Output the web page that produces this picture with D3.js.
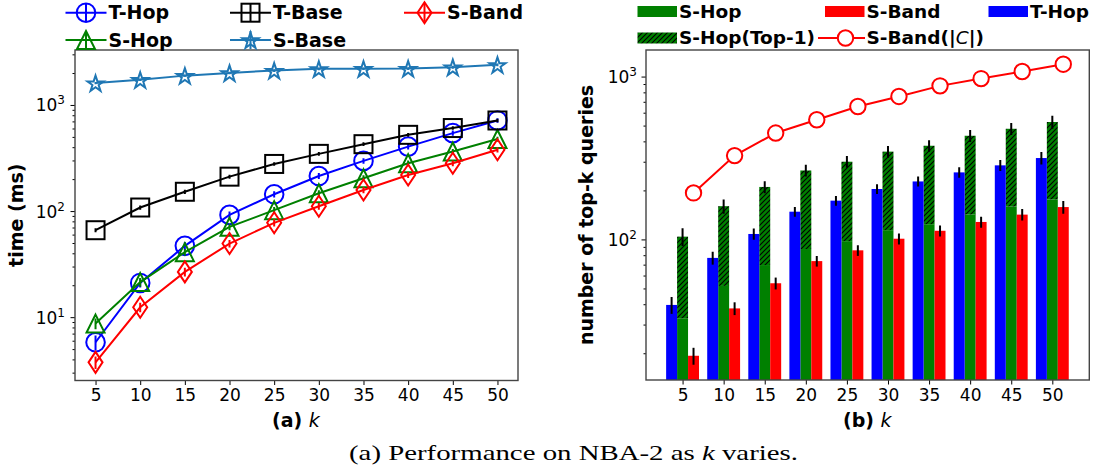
<!DOCTYPE html>
<html>
<head>
<meta charset="utf-8">
<script src="https://cdn.jsdelivr.net/npm/d3@7"></script>
<style>
  body { margin: 0; background: #fff; }
  svg { display: block; }
  text { font-family: "DejaVu Sans", sans-serif; fill: #000; }
</style>
</head>
<body>
<svg id="fig" width="1102" height="469"></svg>
<script>
// ---- data ----
const kValues = [5, 10, 15, 20, 25, 30, 35, 40, 45, 50];

// (a) running time in ms
const tHopTime  = [5.8, 21, 47, 92, 144, 214, 297, 405, 543, 714];
const sHopTime  = [8.7, 21.4, 41, 71, 102, 147, 204, 282, 364, 477];
const tBaseTime = [66, 108, 152, 211, 278, 346, 427, 523, 606, 714];
const sBaseTime = [1610, 1730, 1890, 2005, 2110, 2190, 2195, 2205, 2270, 2390];
const sBandTime = [3.75, 12.4, 26.7, 49.4, 77.5, 111, 158, 219, 282, 378];

const tHopTimeErr  = [0.9, 2, 4, 7, 10, 14, 18, 24, 30, 36];
const sHopTimeErr  = [1, 2, 3, 5, 7, 10, 13, 17, 21, 26];
const tBaseTimeErr = [3, 5, 7, 9, 11, 14, 17, 20, 23, 26];
const sBaseTimeErr = [40, 45, 50, 55, 60, 65, 65, 65, 70, 75];
const sBandTimeErr = [0.5, 1.3, 2.5, 4, 6, 8, 11, 14, 18, 22];

// (b) number of top-k queries
const tHopCount     = [39.6, 77, 108, 148, 173, 204, 227, 258, 285, 316];
const sHopCount     = [32.8, 51.8, 69.6, 87.3, 97.6, 114, 124, 142, 159, 176];
const sHopTop1Count = [104, 160, 210, 265, 300, 346, 376, 433, 478, 526];
const sBandCount    = [19.3, 37.7, 53.8, 73.6, 85.7, 101, 113, 128, 142, 158];
const sBandCandidates = [193, 327, 450, 543, 655, 755, 877, 972, 1074, 1191];

const tHopCountErr     = [4.7, 7, 8.5, 10, 12, 14, 16, 19, 22, 28];
const sHopTop1CountErr = [13, 16, 18, 22, 25, 29, 31, 36, 40, 48];
const sBandCountErr    = [2.3, 3.4, 4.5, 5.5, 6.5, 7.8, 8.8, 10, 11.5, 14];

const leftMajorTicks = [10, 100, 1000];
const leftMinorTicks = [3, 4, 5, 6, 7, 8, 9, 20, 30, 40, 50, 60, 70, 80, 90,
                        200, 300, 400, 500, 600, 700, 800, 900, 2000, 3000];
const rightMajorTicks = [100, 1000];
const rightMinorTicks = [20, 30, 40, 50, 60, 70, 80, 90, 200, 300, 400, 500, 600, 700, 800, 900];

const C = { blue: "#0000ff", green: "#008000", red: "#ff0000", black: "#000000", steel: "#1f77b4" };

const svg = d3.select("#fig");
const defs = svg.append("defs");

// diagonal hatch for the Top-1 bars
const pat = defs.append("pattern").attr("id", "hatch")
  .attr("patternUnits", "userSpaceOnUse").attr("width", 5).attr("height", 5);
pat.append("rect").attr("width", 5).attr("height", 5).attr("fill", C.green);
pat.append("path").attr("d", "M-1,1 L1,-1 M0,5 L5,0 M4,6 L6,4")
  .attr("stroke", "#000").attr("stroke-width", 1.1);

// ---- helpers ----
function starPath(cx, cy, R) {
  const r = R * 0.382;
  let d = "";
  for (let i = 0; i < 10; i++) {
    const a = -Math.PI / 2 + i * Math.PI / 5;
    const rr = i % 2 === 0 ? R : r;
    d += (i === 0 ? "M" : "L") + (cx + rr * Math.cos(a)).toFixed(2) + "," + (cy + rr * Math.sin(a)).toFixed(2);
  }
  return d + "Z";
}

function drawMarker(g, shape, x, y, color, fill) {
  const common = el => el.attr("stroke", color).attr("stroke-width", 2).attr("fill", fill);
  if (shape === "circle") common(g.append("circle").attr("cx", x).attr("cy", y).attr("r", 9.3));
  else if (shape === "square") common(g.append("rect").attr("x", x - 9).attr("y", y - 9).attr("width", 18).attr("height", 18));
  else if (shape === "triangle") common(g.append("path").attr("d", `M${x},${y - 9}L${x + 9},${y + 9}L${x - 9},${y + 9}Z`));
  else if (shape === "diamond") common(g.append("path").attr("d", `M${x},${y - 10.5}L${x + 7},${y}L${x},${y + 10.5}L${x - 7},${y}Z`));
  else if (shape === "star") common(g.append("path").attr("d", starPath(x, y + 1, 8.5)));
  else if (shape === "smallcircle") common(g.append("circle").attr("cx", x).attr("cy", y).attr("r", 7.7));
}

function powerLabel(sel, tickX) {
  // 10^n tick labels drawn as base plus superscript
  sel.each(function (d) {
    const t = d3.select(this);
    t.text(null).attr("x", tickX).attr("text-anchor", "end").attr("dy", "0.35em");
    t.append("tspan").text("10");
    t.append("tspan").attr("dy", -7).attr("font-size", 12).text(Math.round(Math.log10(d)));
  });
}

function styleAxis(g) {
  g.select(".domain").remove();
  g.selectAll(".tick line").attr("stroke", "#000").attr("stroke-width", 1);
  g.selectAll(".tick text").attr("font-size", 17).attr("fill", "#000").attr("font-family", "DejaVu Sans");
}

// ================= (a) time vs k =================
const L = { x0: 75, x1: 518, y0: 50, y1: 380.5 };
const xL = d3.scaleLinear().domain([2.7, 52.3]).range([L.x0, L.x1]);
const yL = d3.scaleLog().domain([2.53, 3296]).range([L.y1, L.y0]);

const gL = svg.append("g");

gL.append("g").attr("transform", `translate(0,${L.y1})`)
  .call(d3.axisBottom(xL).tickValues(kValues).tickSize(4.5).tickPadding(4).tickFormat(d3.format("d")))
  .call(styleAxis);
gL.append("g").attr("transform", `translate(${L.x0},0)`)
  .call(d3.axisLeft(yL).tickValues(leftMinorTicks).tickSize(2.5).tickFormat(""))
  .call(styleAxis);
gL.append("g").attr("transform", `translate(${L.x0},0)`)
  .call(d3.axisLeft(yL).tickValues(leftMajorTicks).tickSize(4.5))
  .call(styleAxis)
  .call(g => powerLabel(g.selectAll(".tick text"), -10));

defs.append("clipPath").attr("id", "clipL").append("rect")
  .attr("x", L.x0).attr("y", L.y0).attr("width", L.x1 - L.x0).attr("height", L.y1 - L.y0);

const seriesL = [
  { name: "T-Hop",  vals: tHopTime,  err: tHopTimeErr,  color: C.blue,  shape: "circle" },
  { name: "S-Hop",  vals: sHopTime,  err: sHopTimeErr,  color: C.green, shape: "triangle" },
  { name: "T-Base", vals: tBaseTime, err: tBaseTimeErr, color: C.black, shape: "square" },
  { name: "S-Base", vals: sBaseTime, err: sBaseTimeErr, color: C.steel, shape: "star" },
  { name: "S-Band", vals: sBandTime, err: sBandTimeErr, color: C.red,   shape: "diamond" }
];

const plotL = gL.append("g").attr("clip-path", "url(#clipL)");
const lineL = d3.line().x(d => xL(d[0])).y(d => yL(d[1]));
seriesL.forEach(s => {
  const g = plotL.append("g");
  const pts = kValues.map((k, i) => [k, s.vals[i]]);
  g.append("path").attr("d", lineL(pts)).attr("fill", "none")
    .attr("stroke", s.color).attr("stroke-width", 2);
  kValues.forEach((k, i) => {
    g.append("line").attr("x1", xL(k)).attr("x2", xL(k))
      .attr("y1", yL(s.vals[i] - s.err[i])).attr("y2", yL(s.vals[i] + s.err[i]))
      .attr("stroke", s.color).attr("stroke-width", 2);
  });
  kValues.forEach((k, i) => drawMarker(g, s.shape, xL(k), yL(s.vals[i]), s.color, "none"));
});

gL.append("rect").attr("x", L.x0).attr("y", L.y0).attr("width", L.x1 - L.x0).attr("height", L.y1 - L.y0)
  .attr("fill", "none").attr("stroke", "#444").attr("stroke-width", 1.4);

gL.append("text").attr("transform", `translate(16,${(L.y0 + L.y1) / 2}) rotate(-90)`)
  .attr("text-anchor", "middle").attr("dy", "0.35em")
  .attr("font-size", 19).attr("font-weight", "bold").text("time (ms)");

const xlabA = gL.append("text").attr("x", 272).attr("y", 427).attr("font-size", 19);
xlabA.append("tspan").attr("font-weight", "bold").text("(a) ");
xlabA.append("tspan").attr("font-style", "italic").text("k");

// legend (a): three columns, filled column by column
const legL = [
  { s: seriesL[0], x: 65.5, y: 12.7 },
  { s: seriesL[1], x: 65.5, y: 40 },
  { s: seriesL[2], x: 230,  y: 12.7 },
  { s: seriesL[3], x: 230,  y: 40 },
  { s: seriesL[4], x: 404,  y: 12.7 }
];
legL.forEach(e => {
  const g = gL.append("g");
  g.append("line").attr("x1", e.x).attr("x2", e.x + 41).attr("y1", e.y).attr("y2", e.y)
    .attr("stroke", e.s.color).attr("stroke-width", 2);
  g.append("line").attr("x1", e.x + 20.5).attr("x2", e.x + 20.5).attr("y1", e.y - 9).attr("y2", e.y + 9)
    .attr("stroke", e.s.color).attr("stroke-width", 2);
  drawMarker(g, e.s.shape, e.x + 20.5, e.y, e.s.color, "none");
  g.append("text").attr("x", e.x + 43).attr("y", e.y + 6.7)
    .attr("font-size", 19).attr("font-weight", "bold").text(e.s.name);
});

// ================= (b) number of queries vs k =================
const R = { x0: 646, x1: 1089.3, y0: 50, y1: 380 };
const idx = kValues.map((k, i) => i);
const xR = d3.scaleLinear().domain([-0.89, 9.9]).range([R.x0, R.x1]);
const yR = d3.scaleLog().domain([13.7, 1456]).range([R.y1, R.y0]);
const barW = 0.8 / 3;
const bw = xR(barW) - xR(0);

const gR = svg.append("g");
gR.append("g").attr("transform", `translate(0,${R.y1})`)
  .call(d3.axisBottom(xR).tickValues(idx).tickSize(4.5).tickPadding(4).tickFormat(i => kValues[i]))
  .call(styleAxis);
gR.append("g").attr("transform", `translate(${R.x0},0)`)
  .call(d3.axisLeft(yR).tickValues(rightMinorTicks).tickSize(2.5).tickFormat(""))
  .call(styleAxis);
gR.append("g").attr("transform", `translate(${R.x0},0)`)
  .call(d3.axisLeft(yR).tickValues(rightMajorTicks).tickSize(4.5))
  .call(styleAxis)
  .call(g => powerLabel(g.selectAll(".tick text"), -9));

defs.append("clipPath").attr("id", "clipR").append("rect")
  .attr("x", R.x0).attr("y", R.y0).attr("width", R.x1 - R.x0).attr("height", R.y1 - R.y0);
const plotR = gR.append("g").attr("clip-path", "url(#clipR)");

function bars(vals, offset, fill, base) {
  plotR.append("g").selectAll("rect").data(idx).join("rect")
    .attr("x", i => xR(i + offset - barW / 2))
    .attr("width", bw)
    .attr("y", i => yR(vals[i]))
    .attr("height", i => (base ? yR(base[i]) : R.y1) - yR(vals[i]))
    .attr("fill", fill);
}
function errs(vals, err, offset) {
  plotR.append("g").selectAll("line").data(idx).join("line")
    .attr("x1", i => xR(i + offset)).attr("x2", i => xR(i + offset))
    .attr("y1", i => yR(vals[i] - err[i])).attr("y2", i => yR(vals[i] + err[i]))
    .attr("stroke", "#000").attr("stroke-width", 2);
}

bars(sHopCount, 0, C.green);
bars(sHopTop1Count, 0, "url(#hatch)", sHopCount);
bars(sBandCount, barW, C.red);
bars(tHopCount, -barW, C.blue);
errs(sHopTop1Count, sHopTop1CountErr, 0);
errs(sBandCount, sBandCountErr, barW);
errs(tHopCount, tHopCountErr, -barW);

const lineR = d3.line().x(i => xR(i + barW)).y(i => yR(sBandCandidates[i]));
plotR.append("path").attr("d", lineR(idx)).attr("fill", "none")
  .attr("stroke", C.red).attr("stroke-width", 2);
idx.forEach(i => drawMarker(plotR, "smallcircle", xR(i + barW), yR(sBandCandidates[i]), C.red, "#fff"));

gR.append("rect").attr("x", R.x0).attr("y", R.y0).attr("width", R.x1 - R.x0).attr("height", R.y1 - R.y0)
  .attr("fill", "none").attr("stroke", "#444").attr("stroke-width", 1.4);

gR.append("text").attr("transform", `translate(586,${(R.y0 + R.y1) / 2}) rotate(-90)`)
  .attr("text-anchor", "middle").attr("dy", "0.35em")
  .attr("font-size", 19).attr("font-weight", "bold").text("number of top-k queries");

const xlabB = gR.append("text").attr("x", 843).attr("y", 427).attr("font-size", 19);
xlabB.append("tspan").attr("font-weight", "bold").text("(b) ");
xlabB.append("tspan").attr("font-style", "italic").text("k");

// legend (b)
const legR = [
  { kind: "patch", fill: C.green,        x: 637.5, y: 11.5, label: ["S-Hop"] },
  { kind: "patch", fill: "url(#hatch)",  x: 637.5, y: 38,   label: ["S-Hop(Top-1)"] },
  { kind: "patch", fill: C.red,          x: 825,   y: 11.5, label: ["S-Band"] },
  { kind: "line",  fill: C.red,          x: 825,   y: 38,   label: ["S-Band(|", "C", "|)"] },
  { kind: "patch", fill: C.blue,         x: 988.5, y: 11.5, label: ["T-Hop"] }
];
legR.forEach(e => {
  const g = gR.append("g");
  if (e.kind === "patch") {
    g.append("rect").attr("x", e.x).attr("y", e.y - 5.5).attr("width", 39.5).attr("height", 11).attr("fill", e.fill);
  } else {
    g.append("line").attr("x1", e.x - 7).attr("x2", e.x + 40).attr("y1", e.y).attr("y2", e.y)
      .attr("stroke", C.red).attr("stroke-width", 2);
    drawMarker(g, "smallcircle", e.x + 20.5, e.y, C.red, "#fff");
  }
  const t = g.append("text").attr("x", e.x + 41.5).attr("y", e.y + 6.3)
    .attr("font-size", 18.5).attr("font-weight", "bold");
  e.label.forEach((part, j) => {
    const sp = t.append("tspan").text(part);
    if (j === 1) sp.attr("font-weight", "normal").attr("font-style", "italic");
  });
});

// caption
const cap = svg.append("text").attr("x", 349).attr("y", 459.5)
  .attr("font-size", 21)
  .style("font-family", "'Liberation Serif', serif")
  .attr("textLength", 449).attr("lengthAdjust", "spacingAndGlyphs");
cap.append("tspan").text("(a) Performance on NBA-2 as ");
cap.append("tspan").attr("font-style", "italic").text("k");
cap.append("tspan").text(" varies.");
</script>
</body>
</html>
